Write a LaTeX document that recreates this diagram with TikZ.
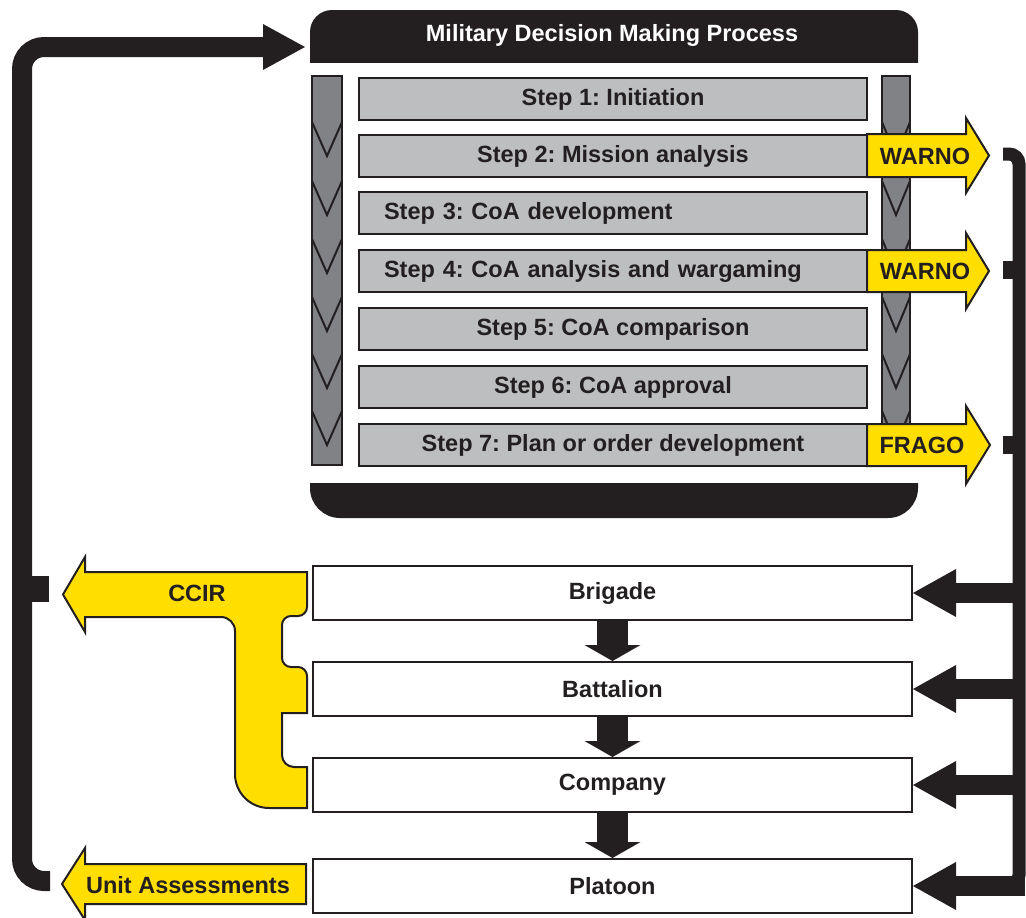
\documentclass[tikz,border=0pt]{standalone}
\usepackage{fontspec}
\setmainfont{Liberation Sans}
\usepackage{xcolor}
\usetikzlibrary{arrows.meta}
\definecolor{ink}{HTML}{231F20}
\definecolor{bargrey}{HTML}{808285}
\definecolor{stepgrey}{HTML}{BCBEC0}
\definecolor{yel}{HTML}{FFDE00}
\frenchspacing

\begin{document}
\begin{tikzpicture}[x=1pt, y=-1pt,
  lbl/.style={font=\fontsize{23.5}{28}\selectfont\bfseries\frenchspacing, text=ink},
  stepbox/.style={lbl, draw=ink, line width=2pt, fill=stepgrey, minimum width=508pt, minimum height=42pt, inner sep=0pt},
  stepleft/.style={stepbox, text width=458pt, align=left, inner xsep=25pt},
  unitbox/.style={lbl, draw=ink, line width=2pt, fill=white, minimum width=599pt, minimum height=54pt},
  bar/.style={draw=ink, line width=2pt, fill=bargrey},
  chev/.style={ink, line width=2pt},
  yarr/.style={draw=ink, line width=2pt, fill=yel},
  downarr/.style={ink, line width=31pt, -{Triangle[length=16pt, width=56pt, line width=0pt]}},
  unitarr/.style={ink, line width=20pt, -{Triangle[length=43pt, width=48pt, line width=0pt]}}]
  \useasboundingbox (0,0) rectangle (1026,918);

  % MDMP frame (top and bottom black bars)
  \begin{scope}
    \clip (300,0) rectangle (930,62);
    \fill[ink, rounded corners=22] (310,10) rectangle (918,100);
  \end{scope}
  \begin{scope}
    \clip (300,483) rectangle (930,530);
    \fill[ink, rounded corners=30] (310,440) rectangle (918,518);
  \end{scope}
  \node[lbl, text=white] (title) at (612,35) {Military Decision Making Process};

  % Side bars with chevrons
  \draw[bar] (312,76) rectangle (342,465);
  \draw[bar] (882,76) rectangle (910,465);
  \foreach \y in {122,181,239,297,354,411} {
    \draw[chev] (312,\y) -- (327,\y+34) -- (342,\y);
    \draw[chev] (882,\y) -- (896,\y+34) -- (910,\y);
  }

  % Steps
  \node[stepbox]  (s1) at (613,99)  {Step 1: Initiation};
  \node[stepbox]  (s2) at (613,156) {Step 2: Mission analysis};
  \node[stepleft] (s3) at (613,213) {Step 3: CoA development};
  \node[stepleft] (s4) at (613,271) {Step 4: CoA analysis and wargaming};
  \node[stepbox]  (s5) at (613,329) {Step 5: CoA comparison};
  \node[stepbox]  (s6) at (613,387) {Step 6: CoA approval};
  \node[stepbox]  (s7) at (613,445) {Step 7: Plan or order development};

  % Orders out of the process
  \filldraw[yarr] (867,134) -- (966,134) -- (966,118) -- (989,155.5) -- (966,193) -- (966,177) -- (867,177) -- cycle;
  \filldraw[yarr] (867,250) -- (966,250) -- (966,233) -- (989,271) -- (966,309) -- (966,292) -- (867,292) -- cycle;
  \filldraw[yarr] (867,424) -- (966,424) -- (966,406) -- (990,445) -- (966,484) -- (966,466) -- (867,466) -- cycle;
  \node[lbl] (warnoA) at (925,156) {WARNO};
  \node[lbl] (warnoB) at (925,271) {WARNO};
  \node[lbl] (frago)  at (922,445) {FRAGO};

  % Echelons
  \node[unitbox] (brig) at (612.5,593) {Brigade};
  \node[unitbox] (batt) at (612.5,689) {Battalion};
  \node[unitbox] (comp) at (612.5,785) {Company};
  \node[unitbox] (plat) at (612.5,886) {Platoon};
  \draw[downarr] (brig.south) -- (batt.north);
  \draw[downarr] (batt.south) -- (comp.north);
  \draw[downarr] (comp.south) -- (plat.north);

  % Right brace down to the echelons
  \coordinate (rb) at (1025,0);
  \draw[ink, line width=13pt, rounded corners=10] (1003,154) -- (1019,154) -- (1019,885) -- (1000,885);
  \draw[ink, line width=18pt] (1003,270) -- (1019,270);
  \draw[ink, line width=18pt] (1003,445) -- (1019,445);
  \foreach \n in {brig,batt,comp,plat}
    \draw[unitarr] (\n.east -| rb) -- (\n.east);

  % Feedback to the process
  \coordinate (mdmpin) at (305,47);
  \draw[ink, line width=20pt, rounded corners=22, -{Triangle[length=42pt, width=46pt, line width=0pt]}]
    (50,881) -- (22,881) -- (22,47) -- (mdmpin);
  \draw[ink, line width=26pt] (22,589) -- (49,589);

  % CCIR
  \filldraw[yarr] (85,572) -- (307,572) [rounded corners=9] -- (307,616) -- (282,616) -- (282,667) -- (307,667)
    [sharp corners] -- (307,713) -- (282,713) [rounded corners=12] -- (282,767) [sharp corners] -- (307,767)
    -- (307,808) [rounded corners=34] -- (235,808) [rounded corners=14] -- (235,617) [sharp corners] -- (85,617)
    -- (85,632) -- (63,594.5) -- (85,557) -- cycle;
  \node[lbl] (ccir) at (197,593) {CCIR};

  % Unit assessments
  \filldraw[yarr] (306,864) -- (306,904) -- (85,904) -- (85,920) -- (62,884) -- (85,848) -- (85,864) -- cycle;
  \node[lbl] (assess) at (188,885) {Unit Assessments};
\end{tikzpicture}
\end{document}
